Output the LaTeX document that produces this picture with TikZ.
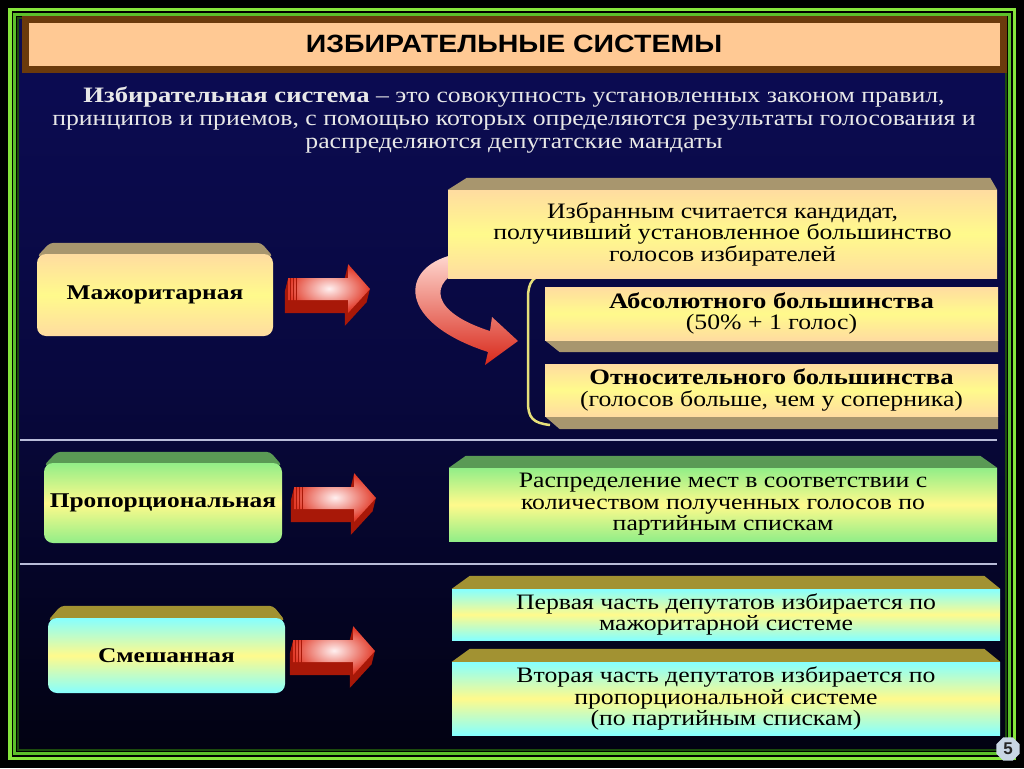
\documentclass[tikz,border=0pt]{standalone}
\usepackage{fontspec}
\setmainfont{Liberation Serif}[FakeStretch=1.17, BoldFeatures={FakeStretch=1.21}]
\newfontfamily\titlefont{Liberation Sans}[FakeStretch=1.14]
\newfontfamily\badgefont{Liberation Sans}
\usetikzlibrary{calc,shapes.geometric}
\pgfdeclarelayer{back}
\pgfdeclarelayer{bg}
\pgfsetlayers{back,bg,main}
\definecolor{navyA}{HTML}{0C0C55}
\definecolor{navyB}{HTML}{08083E}
\definecolor{navyC}{HTML}{020212}
\definecolor{frG}{HTML}{86E63C}
\definecolor{frG2}{HTML}{5CC02A}
\definecolor{frD}{HTML}{1C4A0E}
\definecolor{brownT}{HTML}{6B3A0C}
\definecolor{peachT}{HTML}{FFC994}
\definecolor{deftext}{HTML}{E8E8E8}
\definecolor{peach}{HTML}{FFDCA0}
\definecolor{yel}{HTML}{FFFA8C}
\definecolor{tanTop}{HTML}{A8966E}
\definecolor{grnF}{HTML}{92EE88}
\definecolor{grnTop}{HTML}{5A9A55}
\definecolor{cyanF}{HTML}{86FFFF}
\definecolor{oliveTop}{HTML}{A29232}
\definecolor{redDk}{HTML}{A81808}
\definecolor{redM}{HTML}{E23A28}
\definecolor{redW}{HTML}{FFF0F0}
\definecolor{curvL}{HTML}{FFD8D0}
\definecolor{curvD}{HTML}{D8281A}
\definecolor{brk}{HTML}{E6E07A}
\definecolor{divl}{HTML}{B8BCD8}
\definecolor{badge}{HTML}{C8D6E4}
\tikzset{
  lbox/.style={inner sep=0pt, rounded corners=9pt, align=center, text=black,
    font=\bfseries\fontsize{21}{22}\selectfont},
  rbox/.style={inner sep=0pt, align=center, text=black,
    font=\fontsize{22}{21.5}\selectfont},
  peachfill/.style={top color=peach, bottom color=peach, middle color=yel},
  greenfill/.style={top color=grnF, bottom color=grnF, middle color=yel},
  cyanfill/.style={top color=cyanF, bottom color=cyanF, middle color=yel},
  divider/.style={divl, line width=1.3pt},
  redarr/.pic={
    \foreach \s in {1,...,13}{
      \fill[redDk, shift={(-\s*0.25,\s)}] (0,-13) -- (60,-13) -- (60,-27) -- (82,-2) -- (60,22) -- (60,9) -- (0,9) -- cycle;
    }
    \shade[inner color=redW, outer color=redM] (0,-13) -- (60,-13) -- (60,-27) -- (82,-2) -- (60,22) -- (60,9) -- (0,9) -- cycle;
    \foreach \xx in {2,5,8}{\draw[redDk, line width=1pt] (\xx,-13) -- (\xx,21);}
  }
}
\begin{document}
\begin{tikzpicture}[x=1pt,y=-1pt]
\useasboundingbox (0,0) rectangle (1024,768);
\begin{pgfonlayer}{back}
\fill[black] (0,0) rectangle (1024,768);
\shade[top color=navyA, bottom color=navyC, middle color=navyB] (18,18) rectangle (1006,750);
\draw[frG, line width=3.5pt] (9.75,9.75) rectangle (1014.25,758.25);
\draw[frG2, line width=2.5pt] (14.5,14.5) rectangle (1009.5,753.5);
\draw[frD, line width=2pt] (18,18) rectangle (1006,750);
\end{pgfonlayer}

% title
\draw[brownT, line width=7pt, fill=peachT] (25.5,19.5) rectangle (1003.5,69.5);
\node[font=\titlefont\bfseries\fontsize{25}{25}\selectfont, text=black] (title) at (514,44) {ИЗБИРАТЕЛЬНЫЕ СИСТЕМЫ};

% definition
\node[text=deftext, align=center, font=\fontsize{22}{23}\selectfont] (def) at (514,120)
  {\textbf{Избирательная система} – это совокупность установленных законом правил,\\
   принципов и приемов, с помощью которых определяются результаты голосования и\\
   распределяются депутатские мандаты};

% dividers
\draw[divider] (20,440) -- (997,440);
\draw[divider] (20,564) -- (997,564);

% curved arrow
\shade[top color=curvL, bottom color=curvD] (452,255) .. controls (400,268) and (396,322) .. (488,352)
  -- (485,365) -- (518,341) -- (492,317) -- (490,331) .. controls (430,312) and (428,282) .. (465,268) -- cycle;

% bracket
\draw[brk, line width=2.5pt] (550,273) .. controls (533,275) and (528,282) .. (528,298) -- (528,402)
  .. controls (528,418) and (533,423) .. (550,425);

% left boxes
\node[lbox, peachfill, minimum width=236pt, minimum height=82pt] (maj) at (155,295) {Мажоритарная};
\node[lbox, greenfill, minimum width=238pt, minimum height=80pt] (prop) at (163,503) {Пропорциональная};
\node[lbox, cyanfill, minimum width=237pt, minimum height=75pt] (mix) at (166.5,655.5) {Смешанная};
\begin{pgfonlayer}{bg}
\fill[tanTop, rounded corners=4pt] ($(maj.north west)+(0,3)$) -- ($(maj.north west)+(13,-11)$) -- ($(maj.north east)+(-12,-11)$) -- ($(maj.north east)+(0,3)$) -- cycle;
\fill[grnTop, rounded corners=4pt] ($(prop.north west)+(0,3)$) -- ($(prop.north west)+(13,-11)$) -- ($(prop.north east)+(-12,-11)$) -- ($(prop.north east)+(0,3)$) -- cycle;
\fill[oliveTop, rounded corners=4pt] ($(mix.north west)+(0,3)$) -- ($(mix.north west)+(13,-12)$) -- ($(mix.north east)+(-12,-12)$) -- ($(mix.north east)+(0,3)$) -- cycle;
\end{pgfonlayer}

% red arrows
\pic at (288,291) {redarr};
\pic at (294,500) {redarr};
\pic at (293,653) {redarr};

% right boxes
\node[rbox, peachfill, minimum width=549pt, minimum height=88pt] (izb) at (722.5,234)
  {Избранным считается кандидат,\\ получивший установленное большинство\\ голосов избирателей};
\node[rbox, peachfill, minimum width=453pt, minimum height=53pt] (abs) at (771.5,313.5)
  {\textbf{Абсолютного большинства}\\ (50\% + 1 голос)};
\node[rbox, peachfill, minimum width=453pt, minimum height=52pt] (otn) at (771.5,390)
  {\textbf{Относительного большинства}\\ (голосов больше, чем у соперника)};
\node[rbox, greenfill, minimum width=548pt, minimum height=73pt] (ras) at (723,504.5)
  {Распределение мест в соответствии с\\ количеством полученных голосов по\\ партийным спискам};
\node[rbox, cyanfill, minimum width=548pt, minimum height=51pt] (perv) at (726,614.5)
  {Первая часть депутатов избирается по\\ мажоритарной системе};
\node[rbox, cyanfill, minimum width=548pt, minimum height=73pt] (vtor) at (726,698.5)
  {Вторая часть депутатов избирается по\\ пропорциональной системе\\ (по партийным спискам)};
\begin{pgfonlayer}{bg}
\fill[tanTop] (izb.north west) -- ($(izb.north west)+(19,-12)$) -- ($(izb.north east)+(-7,-12)$) -- (izb.north east) -- cycle;
\fill[tanTop] (abs.south west) -- (abs.south east) -- ($(abs.south east)+(0,12)$) -- ($(abs.south west)+(15,12)$) -- cycle;
\fill[tanTop] (otn.south west) -- (otn.south east) -- ($(otn.south east)+(0,13)$) -- ($(otn.south west)+(15,13)$) -- cycle;
\fill[grnTop] (ras.north west) -- ($(ras.north west)+(17,-12)$) -- ($(ras.north east)+(-17,-12)$) -- (ras.north east) -- cycle;
\fill[oliveTop] (perv.north west) -- ($(perv.north west)+(18,-13)$) -- ($(perv.north east)+(-16,-13)$) -- (perv.north east) -- cycle;
\fill[oliveTop] (vtor.north west) -- ($(vtor.north west)+(18,-13)$) -- ($(vtor.north east)+(-16,-13)$) -- (vtor.north east) -- cycle;
\end{pgfonlayer}

% page badge
\node[regular polygon, regular polygon sides=8, fill=badge, minimum size=25pt, inner sep=0pt,
  text=black!85, font=\badgefont\bfseries\fontsize{17}{17}\selectfont] (pg) at (1008,749) {5};
\end{tikzpicture}
\end{document}
